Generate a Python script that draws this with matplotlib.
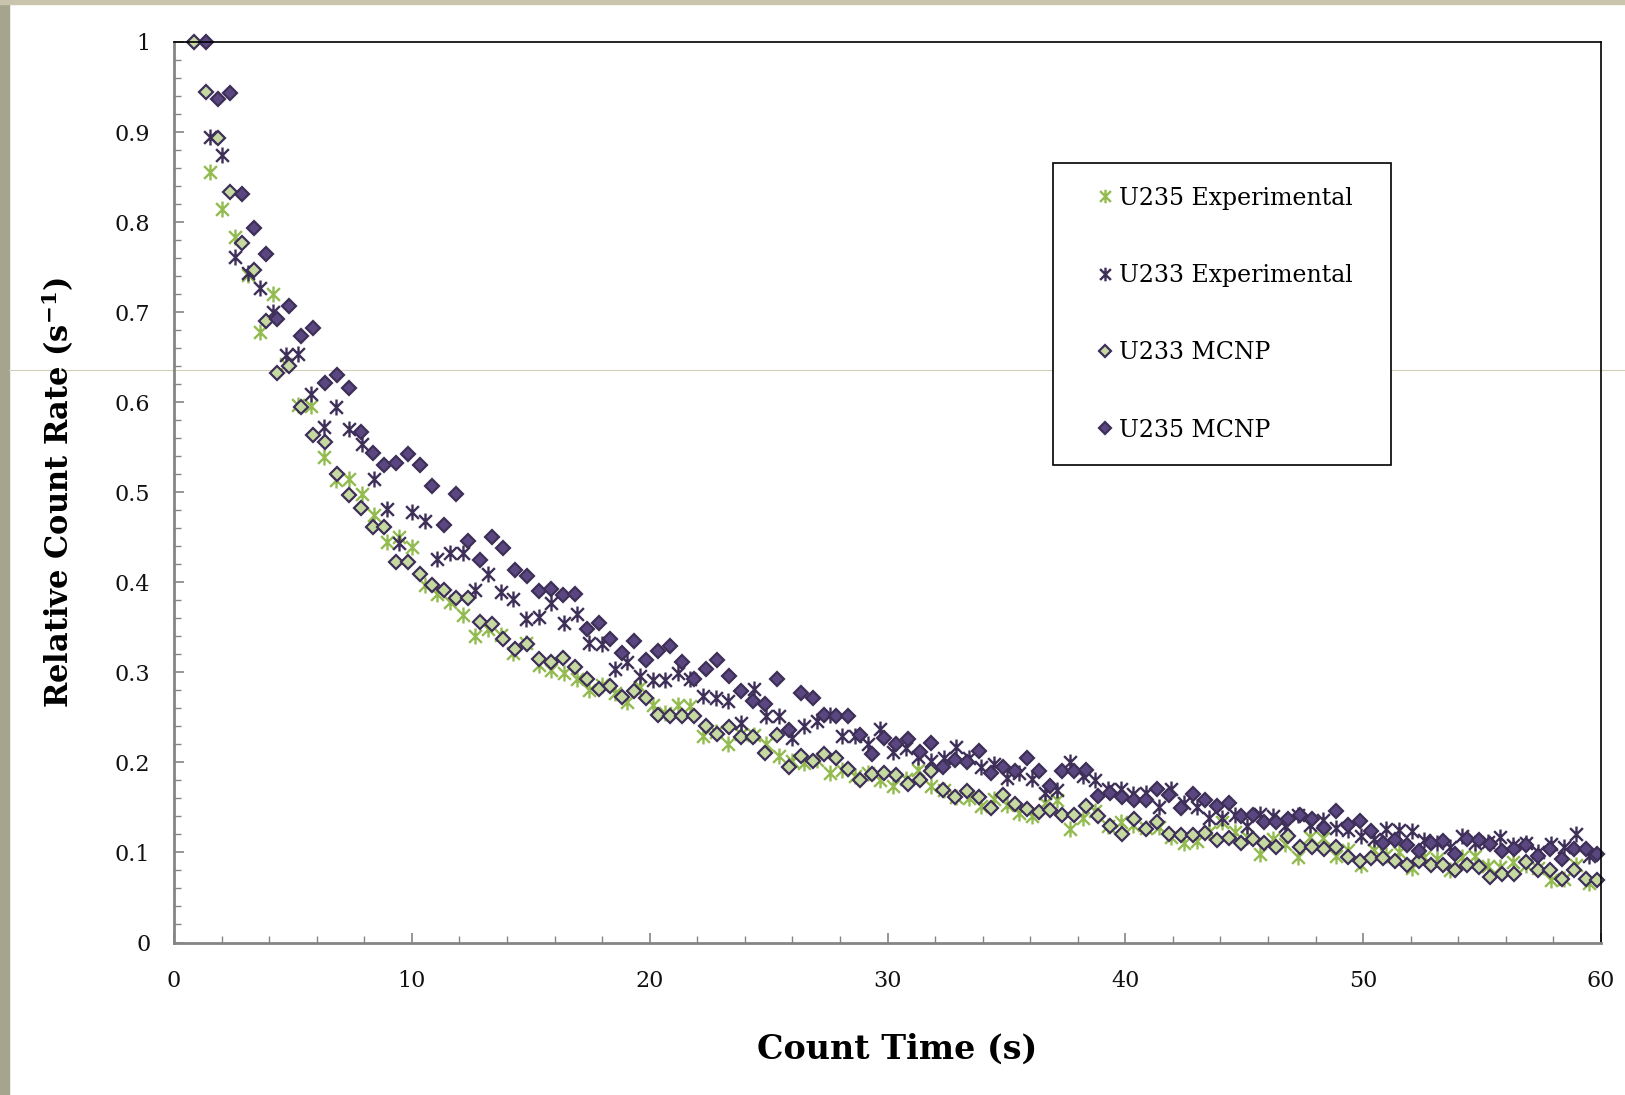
import numpy as np
import matplotlib
matplotlib.use("Agg")
import matplotlib.pyplot as plt
from matplotlib.path import Path
from matplotlib.lines import Line2D
from matplotlib.patches import Rectangle

# ---- data ----
# MCNP points sit on a 0.5 s grid, experimental points on a ~0.532 s grid
t_mcnp_233 = 0.85 + 0.5 * np.arange(119)
t_mcnp_235 = 1.35 + 0.5 * np.arange(118)
t_exp = 1.5 + 0.532 * np.arange(110)

u233_mcnp = [1.000, 0.944, 0.893, 0.833, 0.777, 0.747, 0.690, 0.632, 0.640, 0.595,
             0.564, 0.556, 0.520, 0.497, 0.482, 0.461, 0.461, 0.422, 0.422, 0.409,
             0.397, 0.392, 0.383, 0.383, 0.356, 0.354, 0.337, 0.326, 0.331, 0.315,
             0.311, 0.316, 0.306, 0.293, 0.282, 0.285, 0.273, 0.279, 0.271, 0.253,
             0.252, 0.252, 0.252, 0.240, 0.232, 0.239, 0.228, 0.228, 0.210, 0.230,
             0.195, 0.207, 0.202, 0.209, 0.205, 0.193, 0.181, 0.187, 0.188, 0.186,
             0.176, 0.180, 0.191, 0.169, 0.162, 0.168, 0.162, 0.149, 0.164, 0.154,
             0.148, 0.145, 0.147, 0.142, 0.142, 0.152, 0.140, 0.129, 0.121, 0.137,
             0.126, 0.134, 0.121, 0.119, 0.119, 0.122, 0.114, 0.116, 0.110, 0.115,
             0.110, 0.106, 0.118, 0.106, 0.106, 0.104, 0.106, 0.095, 0.091, 0.094,
             0.094, 0.091, 0.086, 0.091, 0.086, 0.086, 0.081, 0.086, 0.084, 0.073,
             0.076, 0.076, 0.089, 0.081, 0.080, 0.071, 0.080, 0.071, 0.069]

u235_mcnp = [1.000, 0.937, 0.943, 0.831, 0.794, 0.765, 0.692, 0.707, 0.673, 0.682,
             0.621, 0.630, 0.616, 0.567, 0.544, 0.530, 0.533, 0.542, 0.530, 0.507,
             0.464, 0.498, 0.446, 0.425, 0.450, 0.438, 0.414, 0.407, 0.390, 0.393,
             0.386, 0.387, 0.348, 0.355, 0.337, 0.321, 0.335, 0.314, 0.324, 0.329,
             0.312, 0.293, 0.304, 0.314, 0.296, 0.279, 0.268, 0.265, 0.293, 0.236,
             0.277, 0.272, 0.253, 0.252, 0.251, 0.230, 0.209, 0.227, 0.220, 0.226,
             0.212, 0.222, 0.195, 0.203, 0.200, 0.213, 0.188, 0.195, 0.191, 0.205,
             0.190, 0.174, 0.190, 0.190, 0.192, 0.163, 0.166, 0.162, 0.158, 0.158,
             0.171, 0.164, 0.149, 0.165, 0.158, 0.152, 0.155, 0.141, 0.142, 0.134,
             0.134, 0.137, 0.142, 0.137, 0.127, 0.146, 0.131, 0.135, 0.124, 0.111,
             0.114, 0.108, 0.102, 0.110, 0.113, 0.098, 0.115, 0.114, 0.109, 0.102,
             0.104, 0.108, 0.096, 0.104, 0.093, 0.104, 0.104, 0.098]

u233_exp = [0.894, 0.874, 0.761, 0.743, 0.727, 0.700, 0.652, 0.653, 0.609, 0.573,
            0.595, 0.570, 0.554, 0.515, 0.481, 0.444, 0.478, 0.468, 0.426, 0.432,
            0.433, 0.392, 0.409, 0.389, 0.382, 0.359, 0.361, 0.377, 0.355, 0.365,
            0.333, 0.331, 0.304, 0.311, 0.296, 0.292, 0.291, 0.299, 0.293, 0.274,
            0.271, 0.268, 0.244, 0.282, 0.252, 0.252, 0.227, 0.240, 0.246, 0.253,
            0.229, 0.229, 0.220, 0.237, 0.211, 0.216, 0.206, 0.201, 0.205, 0.217,
            0.205, 0.195, 0.198, 0.183, 0.188, 0.182, 0.166, 0.169, 0.200, 0.185,
            0.181, 0.170, 0.171, 0.165, 0.166, 0.151, 0.170, 0.155, 0.151, 0.138,
            0.138, 0.142, 0.129, 0.143, 0.140, 0.129, 0.142, 0.130, 0.136, 0.127,
            0.125, 0.118, 0.115, 0.126, 0.125, 0.124, 0.114, 0.110, 0.106, 0.118,
            0.110, 0.112, 0.117, 0.108, 0.110, 0.101, 0.109, 0.106, 0.121, 0.096]

u235_exp = [0.856, 0.815, 0.783, 0.741, 0.678, 0.720, 0.642, 0.597, 0.596, 0.539,
            0.514, 0.515, 0.498, 0.475, 0.445, 0.450, 0.439, 0.397, 0.387, 0.378,
            0.364, 0.340, 0.348, 0.341, 0.321, 0.333, 0.308, 0.303, 0.299, 0.293,
            0.280, 0.286, 0.277, 0.267, 0.284, 0.264, 0.255, 0.264, 0.263, 0.229,
            0.234, 0.220, 0.232, 0.230, 0.220, 0.207, 0.201, 0.199, 0.203, 0.188,
            0.192, 0.185, 0.188, 0.180, 0.174, 0.182, 0.192, 0.174, 0.169, 0.162,
            0.161, 0.152, 0.159, 0.153, 0.144, 0.140, 0.155, 0.158, 0.126, 0.138,
            0.146, 0.129, 0.134, 0.130, 0.127, 0.128, 0.117, 0.111, 0.113, 0.123,
            0.134, 0.123, 0.117, 0.098, 0.115, 0.109, 0.095, 0.117, 0.116, 0.096,
            0.103, 0.086, 0.103, 0.097, 0.101, 0.083, 0.095, 0.093, 0.081, 0.095,
            0.096, 0.085, 0.084, 0.089, 0.086, 0.083, 0.069, 0.071, 0.086, 0.066]

# --------------------------------
plt.rcParams['font.family'] = 'DejaVu Serif'
plt.rcParams['mathtext.fontset'] = 'dejavuserif'

green = '#93bb50'
dark = '#3e2f58'
light_fill = '#c6d9a0'
dark_fill = '#5a4680'

# excel style asterisk: vertical bar plus an x
M, L = Path.MOVETO, Path.LINETO
star = Path([(0, -1), (0, 1), (-0.8, -0.8), (0.8, 0.8), (-0.8, 0.8), (0.8, -0.8)],
            [M, L, M, L, M, L])

fig = plt.figure(figsize=(16.25, 10.95), dpi=100)
fig.patch.set_facecolor('white')

# slide decoration
fig.add_artist(Rectangle((0, 0), 9 / 1625, 1, transform=fig.transFigure,
                         color='#a6a38f', zorder=-2))
fig.add_artist(Rectangle((0, 1 - 4 / 1095), 1, 4 / 1095, transform=fig.transFigure,
                         color='#c9c5ad', zorder=-2))
fig.add_artist(Line2D([9 / 1625, 1], [1 - 370 / 1095] * 2, transform=fig.transFigure,
                      color='#d2cdb8', lw=0.8, zorder=-1))

ax = fig.add_axes([174 / 1625, 1 - 942.5 / 1095, 1427 / 1625, 900.5 / 1095])
ax.patch.set_visible(False)

ax.plot(t_exp, u235_exp, ls='none', marker=star, ms=11.5, mew=1.7, color=green,
        clip_on=False, label='U235 Experimental')
ax.plot(t_exp, u233_exp, ls='none', marker=star, ms=11.5, mew=1.7, color=dark,
        clip_on=False, label='U233 Experimental')
ax.plot(t_mcnp_233, u233_mcnp, ls='none', marker='D', ms=7, mew=1.6, mfc=light_fill,
        mec=dark, clip_on=False, label='U233 MCNP')
ax.plot(t_mcnp_235, u235_mcnp, ls='none', marker='D', ms=7, mew=1.6, mfc=dark_fill,
        mec=dark, clip_on=False, label='U235 MCNP')

ax.set_xlim(0, 60)
ax.set_ylim(0, 1)
ax.set_xticks(np.arange(0, 61, 10))
ax.set_xticks(np.arange(0, 61, 2), minor=True)
ax.set_yticks(np.arange(0, 1.01, 0.1))
ax.set_yticks(np.arange(0, 1.001, 0.02), minor=True)
ax.set_yticklabels(['0', '0.1', '0.2', '0.3', '0.4', '0.5', '0.6', '0.7', '0.8', '0.9', '1'])

for s in ['top', 'right']:
    ax.spines[s].set_color('black')
    ax.spines[s].set_linewidth(1.2)
for s in ['left', 'bottom']:
    ax.spines[s].set_color('#858585')
    ax.spines[s].set_linewidth(2.0)

ax.tick_params(which='major', direction='in', length=7, width=1.2, color='#858585',
               labelsize=16, labelcolor='#111111', pad=17)
ax.tick_params(which='minor', direction='in', length=5, width=1.0, color='#858585')
ax.tick_params(axis='x', which='major', pad=20)

ax.set_xlabel('Count Time (s)', fontsize=24, fontweight='bold', labelpad=29)
ax.xaxis.label.set_x(0.5065)
ax.set_ylabel('Relative Count Rate (s$^{\\mathbf{-1}}$)', fontsize=22,
              fontweight='bold', labelpad=28)

leg = ax.legend(loc='upper left', bbox_to_anchor=(0.616, 0.5, 0.2369, 0.3656),
                mode='expand', borderaxespad=0, fontsize=17, frameon=True,
                fancybox=False, edgecolor='black', framealpha=1, labelspacing=2.3,
                borderpad=1.0, handlelength=2.4, handletextpad=-0.6, markerscale=0.85)
leg.get_frame().set_linewidth(1.2)

fig.savefig('out.png', dpi=100)
